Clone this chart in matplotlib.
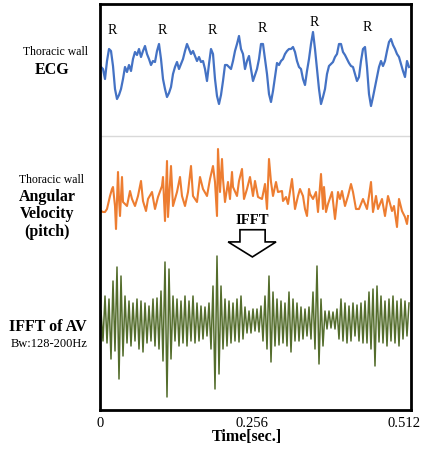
import numpy as np
import matplotlib
matplotlib.use('Agg')
from matplotlib import pyplot as plt
from matplotlib.patches import Polygon

plt.rcParams['font.family'] = 'Liberation Serif'

# one sample step (s); 304 steps make 0.512 s
dt = 0.512 / 304

# thoracic wall ECG, every 2nd sample starting at 1 (a.u.)
ecg = [2, 0, -10, 8, 20, 18, 3, -20, -30, -26, -20, -10, 2, -3, 4, -2, 10, 17, 14, 20,
       12, 18, 23, 15, 10, 4, 8, 7, 18, 25, 10, -10, -20, -28, -24, -18, -5, 2, 7, 0,
       5, 10, 18, 25, 20, 15, 18, 13, 8, 12, 7, 8, 0, -12, 5, 20, 15, -10, -27, -35,
       -26, -12, 4, 4, 2, 0, 8, 18, 25, 33, 20, 15, 0, 8, 13, 0, -12, -6, 0, 10,
       25, 25, 10, -5, -25, -33, -22, -8, 6, 4, 8, 10, 15, 18, 20, 20, 22, 17, 8, 2,
       0, -10, -16, -2, 10, 25, 37, 20, 0, -20, -35, -28, -20, -5, 3, 5, 7, 12, 15, 25,
       25, 17, 14, 10, 6, 3, 2, -5, -12, -8, 8, 20, 22, 2, -25, -37, -28, -18, -8, 2,
       8, 3, 8, 18, 27, 30, 24, 20, 15, 12, 5, -2, -8, 8, 2]

# angular velocity (pitch), sample numbers and values (a.u.)
av_n = [1, 3, 5, 7, 10, 12, 13, 15, 16, 18, 19, 20, 22, 23, 25, 27, 30, 32, 35, 38,
        41, 43, 46, 48, 52, 55, 58, 62, 63, 65, 67, 68, 71, 73, 75, 77, 80, 82, 85, 88,
        91, 93, 97, 100, 103, 107, 110, 113, 115, 117, 118, 120, 122, 123, 125, 128, 130, 132, 133, 137,
        139, 142, 144, 147, 150, 153, 155, 158, 162, 165, 167, 169, 171, 173, 176, 178, 182, 183, 186, 188,
        192, 195, 198, 200, 203, 205, 207, 209, 210, 213, 216, 218, 221, 223, 224, 226, 228, 232, 235, 238,
        240, 242, 245, 248, 251, 253, 256, 259, 263, 267, 269, 271, 273, 276, 278, 282, 285, 288, 292, 294,
        297, 299, 302, 305, 307, 308]
av = [-17, -18, -18, -15, -2, 5, 7, -12, -35, 22, -5, -22, 17, -8, -10, -12, 3, -5, -12, -2,
      13, -7, -17, -5, 2, -15, -3, 8, 17, -27, 33, -23, 28, -12, -5, 2, 17, -2, -12, 2,
      28, -2, -8, 17, 5, -2, 15, 28, 12, -22, 45, 2, 35, 15, -8, 12, -5, 22, 7, -2,
      13, 25, -5, 5, 17, -2, 13, -3, -5, 10, -15, 35, 12, -2, 12, 2, 3, -7, -3, -10,
      15, -15, -2, 5, -2, -15, -22, 5, 0, -5, 2, -18, 20, -15, 7, -18, -10, 2, -25, 2,
      -5, 3, -12, -2, 10, 2, -15, -15, -5, -15, -2, 12, -18, -2, -15, -5, -22, -2, -17, -12,
      -33, -5, -17, -23, -30, -22]

# IFFT of AV (128-200 Hz band), every 2nd sample starting at 1
ifft = [10, -20, 25, -22, 22, -38, 40, -30, 54, -58, 45, -35, 25, -22, 20, -25, 18, -20, 22, -28,
        20, -31, 18, -22, 15, -20, 22, -25, 23, -28, 30, -40, 59, -76, 52, -38, 25, -20, 22, -25,
        20, -22, 25, -25, 20, -20, 25, -22, 18, -20, 15, -18, 14, -15, 18, -28, 35, -68, 65, -53,
        35, -28, 22, -25, 20, -22, 18, -20, 22, -21, 25, -18, 14, -12, 10, -12, 12, -10, 12, -11,
        15, -20, 25, -28, 45, -41, 29, -25, 22, -24, 20, -22, 18, -25, 29, -31, 22, -20, 18, -20,
        14, -18, 12, -15, 14, -18, 29, -28, 55, -43, 22, -25, 10, -8, 10, -7, 9, -8, 12, -18,
        22, -20, 18, -22, 15, -20, 18, -15, 16, -20, 18, -22, 20, -22, 29, -28, 32, -45, 35, -21,
        25, -22, 20, -25, 22, -20, 25, -22, 20, -25, 22, -18, 20, -15, 18]

# R peaks of the ECG (sample numbers)
r_n = [12, 62, 112, 162, 214, 267]
r_y = [381, 381, 380, 383, 389, 384]

fig = plt.figure(figsize=(4.27, 4.52), dpi=100)
ax = fig.add_axes([100 / 427, 41 / 452, 311 / 427, 406 / 452])

t_ecg = (np.arange(len(ecg)) * 2 + 1) * dt
t_av = np.array(av_n) * dt
t_ifft = (np.arange(len(ifft)) * 2 + 1) * dt

ax.plot(t_ecg, 341 + np.array(ecg), color='#4472c4', lw=1.6)
ax.plot(t_av, 216 + np.array(av), color='#ed7d31', lw=1.5)
ax.plot(t_ifft, 89 + np.array(ifft), color='#546d2c', lw=1.1)

ax.axhline(274, color='#d9d9d9', lw=1)

for n, y in zip(r_n, r_y):
    ax.text(n * dt, y, 'R', ha='center', va='center', fontsize=10)

# hollow down arrow under "IFFT"
arrow = Polygon([(0.450, 0.444), (0.531, 0.444), (0.531, 0.414), (0.566, 0.414),
                 (0.490, 0.377), (0.412, 0.414), (0.450, 0.414)],
                closed=True, transform=ax.transAxes, facecolor='white',
                edgecolor='black', lw=1.2, zorder=5)
ax.add_patch(arrow)
ax.text(0.490, 0.470, 'IFFT', transform=ax.transAxes, ha='center', va='center',
        fontsize=10.5, fontweight='bold')

ax.set_xlim(0, 0.5238)
ax.set_ylim(0, 406)
ax.set_xticks([0, 0.256, 0.512])
ax.set_xticklabels(['0', '0.256', '0.512'], fontsize=10.5)
ax.tick_params(axis='x', length=0, pad=4)
ax.set_yticks([])
for s in ax.spines.values():
    s.set_linewidth(2)

fig.text(247 / 427, 1 - 437 / 452, 'Time[sec.]', ha='center', va='center',
         fontsize=11.5, fontweight='bold')

def lab(x, y, s, size, bold=False):
    fig.text(x / 427, 1 - y / 452, s, ha='center', va='center', fontsize=size,
             fontweight='bold' if bold else 'normal')

lab(56, 52, 'Thoracic wall', 8.5)
lab(52, 70, 'ECG', 11.5, True)
lab(52, 180, 'Thoracic wall', 8.5)
lab(47, 197, 'Angular', 11.5, True)
lab(47, 214, 'Velocity', 11.5, True)
lab(47, 232, '(pitch)', 11.5, True)
lab(48, 327, 'IFFT of AV', 11.5, True)
lab(49, 344, 'Bw:128-200Hz', 9)

fig.savefig('out.png', dpi=100)
